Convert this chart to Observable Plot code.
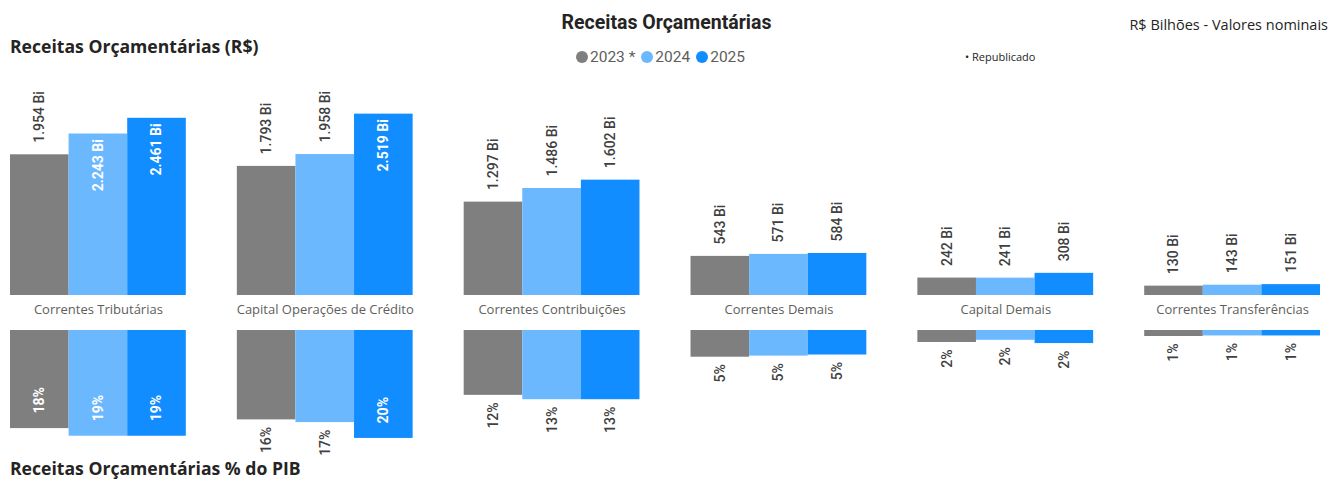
<!DOCTYPE html>
<html>
<head>
<meta charset="utf-8">
<script src="https://cdn.jsdelivr.net/npm/d3@7"></script>
<script src="https://cdn.jsdelivr.net/npm/@observablehq/plot@0.6"></script>
<style>
  html, body { margin: 0; padding: 0; background: #fff; }
  #wrap { position: relative; width: 1333px; height: 479px; overflow: hidden; font-family: "Open Sans", "Noto Sans", sans-serif; }
  .abs { position: absolute; white-space: nowrap; }
  .h1 { font-family: "Open Sans", sans-serif; font-weight: 700; color: #252423; }
  .h0 { font-family: Roboto, sans-serif; font-weight: 700; color: #252423; }
  #topPlot { position: absolute; left: 0; top: 0; }
  #botPlot { position: absolute; left: 0; top: 325px; }
  .legend { display: flex; align-items: center; font-family: Roboto, sans-serif; font-size: 15.5px; color: #605e5c; }
  .legend .dot { width: 12px; height: 12px; border-radius: 50%; display: inline-block; margin-right: 2px; }
  .legend .item { display: flex; align-items: center; margin-right: 6px; }
</style>
</head>
<body>
<div id="wrap">
  <div class="abs h1" style="left:10px; top:34px; font-size:17.6px;">Receitas Orçamentárias (R$)</div>
  <div class="abs h0" style="left:0; width:1333px; text-align:center; top:11px; font-size:19.5px;">Receitas Orçamentárias</div>
  <div class="abs legend" id="legend" style="left:0; width:1333px; justify-content:center; top:48px; padding-right:6px; box-sizing:border-box;"></div>
  <div class="abs" style="right:5px; top:15px; font-size:14.5px; color:#252423;">R$ Bilhões - Valores nominais</div>
  <div class="abs" style="left:965px; top:49px; font-size:11px; color:#252423;">• Republicado</div>
  <div id="topPlot"></div>
  <div id="botPlot"></div>
  <div class="abs h1" style="left:10px; top:456px; font-size:17.6px;">Receitas Orçamentárias % do PIB</div>
</div>
<script>
// ---- data ----
const categories = ["Correntes Tributárias", "Capital Operações de Crédito", "Correntes Contribuições", "Correntes Demais", "Capital Demais", "Correntes Transferências"];
const years = ["2023", "2024", "2025"];
const yearLabels = ["2023 *", "2024", "2025"];
const colors = ["#7f7f7f", "#6cb8ff", "#118dff"];
// R$ bilhões, per category
const values2023 = [1954, 1793, 1297, 543, 242, 130];
const values2024 = [2243, 1958, 1486, 571, 241, 143];
const values2025 = [2461, 2519, 1602, 584, 308, 151];
// % do PIB
const pib2023 = [18.0, 16.4, 11.9, 4.9, 2.2, 1.1];
const pib2024 = [19.4, 16.9, 12.7, 4.7, 1.8, 1.0];
const pib2025 = [19.4, 19.8, 12.7, 4.5, 2.4, 1.0];

// ---- build tables ----
const valSeries = [values2023, values2024, values2025];
const pibSeries = [pib2023, pib2024, pib2025];
const topData = [], botData = [];
categories.forEach((c, i) => {
  years.forEach((y, j) => {
    topData.push({cat: c, year: y, value: valSeries[j][i]});
    botData.push({cat: c, year: y, value: pibSeries[j][i]});
  });
});

const br = d3.formatLocale({decimal: ",", thousands: ".", grouping: [3], currency: ["R$", ""]});
const fmtBi = (v) => br.format(",.0f")(v) + " Bi";
const fmtPct = (v) => d3.format(".0f")(v) + "%";

const topInside = (d) => d.value > 2100;
const botInside = (d) => d.value > 17.5;

const fxOpts = {domain: categories, paddingInner: 0.225, paddingOuter: 0, round: false, label: null};
const labelFont = "Roboto, sans-serif";
const labelSize = 14;

// ---- top chart ----
const topChart = Plot.plot({
  width: 1333,
  height: 325,
  marginLeft: 10,
  marginRight: 13,
  marginTop: 0,
  marginBottom: 30,
  style: {background: "transparent", overflow: "visible"},
  fx: fxOpts,
  x: {domain: years, padding: 0, round: false, axis: null},
  y: {domain: [0, 3000], range: [295, 79], axis: null},
  color: {domain: years, range: colors},
  marks: [
    Plot.barY(topData, {fx: "cat", x: "year", y: "value", fill: "year"}),
    Plot.text(topData.filter(d => !topInside(d)), {
      fx: "cat", x: "year", y: "value", text: d => fmtBi(d.value),
      rotate: -90, textAnchor: "start", dy: -12, fill: "#404040",
      fontSize: labelSize, fontWeight: 500, fontFamily: labelFont
    }),
    Plot.text(topData.filter(topInside), {
      fx: "cat", x: "year", y: "value", text: d => fmtBi(d.value),
      rotate: -90, textAnchor: "end", dy: 5, fill: "white",
      fontSize: labelSize, fontWeight: 700, fontFamily: labelFont
    }),
    Plot.axisFx({anchor: "bottom", tickSize: 0, tickPadding: 9, label: null,
      fontSize: 13, fill: "#605e5c", fontFamily: "'Open Sans', sans-serif"})
  ]
});
document.getElementById("topPlot").appendChild(topChart);

// ---- bottom chart ----
const botChart = Plot.plot({
  width: 1333,
  height: 150,
  marginLeft: 10,
  marginRight: 13,
  marginTop: 0,
  marginBottom: 0,
  style: {background: "transparent", overflow: "visible"},
  fx: {...fxOpts, axis: null},
  x: {domain: years, padding: 0, round: false, axis: null},
  y: {domain: [0, 25], range: [5, 5 + 25 * 5.45], axis: null},
  color: {domain: years, range: colors},
  marks: [
    Plot.barY(botData, {fx: "cat", x: "year", y: "value", fill: "year"}),
    Plot.text(botData.filter(d => !botInside(d)), {
      fx: "cat", x: "year", y: "value", text: d => fmtPct(d.value),
      rotate: -90, textAnchor: "end", dy: 7, fill: "#404040",
      fontSize: labelSize, fontWeight: 500, fontFamily: labelFont
    }),
    Plot.text(botData.filter(botInside), {
      fx: "cat", x: "year", y: "value", text: d => fmtPct(d.value),
      rotate: -90, textAnchor: "start", dy: -15, fill: "white",
      fontSize: labelSize, fontWeight: 700, fontFamily: labelFont
    })
  ]
});
document.getElementById("botPlot").appendChild(botChart);

// ---- legend ----
const leg = document.getElementById("legend");
years.forEach((y, j) => {
  const it = document.createElement("span");
  it.className = "item";
  it.innerHTML = `<span class="dot" style="background:${colors[j]}"></span><span>${yearLabels[j]}</span>`;
  leg.appendChild(it);
});
</script>
</body>
</html>
